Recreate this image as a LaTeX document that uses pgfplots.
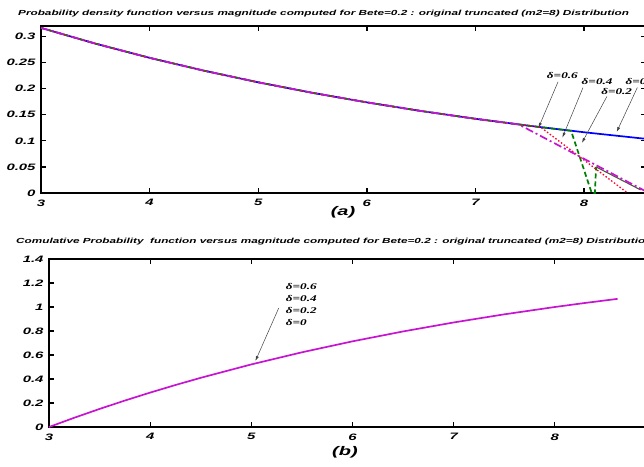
\documentclass[border=0pt]{standalone}
\usepackage{fontspec}
\setmainfont{Liberation Sans}
\newfontfamily\wf[FakeStretch=1.6]{Liberation Sans}
\newfontfamily\wsf[FakeStretch=1.5]{Liberation Serif}
\usepackage{pgfplots}
\pgfplotsset{compat=1.18}
\usetikzlibrary{arrows.meta}

\newcommand\tickfont{\wf\bfseries\itshape\fontsize{9.3}{10}\selectfont}
\newcommand\titlefont{\wf\bfseries\itshape\fontsize{7.35}{8}\selectfont}
\newcommand\dfont{\wsf\bfseries\itshape\fontsize{8.8}{9}\selectfont}
\definecolor{mgreen}{rgb}{0,0.5,0}
\definecolor{dkline}{rgb}{0.3,0.35,0.25}
\definecolor{mmag}{rgb}{0.78,0.08,0.82}

\pgfplotsset{
  mat/.style={
    scale only axis, clip=false,
    axis line style={line width=1.5pt},
    tick align=inside, major tick length=5pt,
    major tick style={line width=1.3pt, black},
    tick label style={font=\tickfont},
    xticklabel style={yshift=-3pt},
    yticklabel style={xshift=-2pt},
  },
}
\tikzset{ann/.style={-{Latex[length=5pt,width=3pt]}, black!75, line width=0.5pt}}

\begin{document}
\begin{tikzpicture}[x=1pt,y=1pt]
% ---------------- (a) pdf ----------------
\begin{axis}[mat, at={(41pt,273pt)}, anchor=south west, width=605pt, height=167pt,
  xmin=3, xmax=8.57, ymin=0, ymax=0.32,
  xtick={3,4,5,6,7,8}, xticklabels={3,4,5,6,7,8},
  ytick={0,0.05,0.1,0.15,0.2,0.25,0.3}, yticklabels={0,0.05,0.1,0.15,0.2,0.25,0.3}]
% delta = 0
\addplot[blue, line width=1.7pt] coordinates {
 (3.0,0.3164) (3.5,0.2863) (4.0,0.2590) (4.5,0.2344) (5.0,0.2121) (5.5,0.1919)
 (6.0,0.1737) (6.5,0.1571) (7.0,0.1422) (7.5,0.1287) (8.0,0.1164) (8.5,0.1053) (8.57,0.1038)};
% delta = 0.2
\addplot[mgreen, line width=1.7pt, dash pattern=on 5pt off 3pt] coordinates {
 (3.0,0.3164) (3.5,0.2863) (4.0,0.2590) (4.5,0.2344) (5.0,0.2121) (5.5,0.1919)
 (6.0,0.1737) (6.5,0.1571) (7.0,0.1422) (7.5,0.1287) (7.88,0.1192) (8.07,0) (8.10,0) (8.11,0.050)};
\addplot[dkline, line width=1.1pt] coordinates {(8.11,0.050) (8.52,0.006)};
% delta = 0.4
\addplot[red!85!magenta, line width=1.3pt, dash pattern=on 1.5pt off 2pt] coordinates {
 (3.0,0.3164) (3.5,0.2863) (4.0,0.2590) (4.5,0.2344) (5.0,0.2121) (5.5,0.1919)
 (6.0,0.1737) (6.5,0.1571) (7.0,0.1422) (7.5,0.1287) (7.6,0.1261) (8.40,0)};
% delta = 0.6
\addplot[mmag, line width=1.7pt, dash pattern=on 8pt off 3pt on 2pt off 3pt] coordinates {
 (3.0,0.3164) (3.5,0.2863) (4.0,0.2590) (4.5,0.2344) (5.0,0.2121) (5.5,0.1919)
 (6.0,0.1737) (6.5,0.1571) (7.0,0.1422) (7.4,0.1312) (8.57,0.003)};
% annotations
\draw[ann] (axis cs:7.76,0.213) -- (axis cs:7.58,0.125);
\node[font=\dfont] at (axis cs:7.80,0.225) {δ=0.6};
\draw[ann] (axis cs:7.99,0.202) -- (axis cs:7.80,0.106);
\node[font=\dfont] at (axis cs:8.12,0.213) {δ=0.4};
\draw[ann] (axis cs:8.21,0.185) -- (axis cs:7.98,0.096);
\node[font=\dfont] at (axis cs:8.30,0.194) {δ=0.2};
\draw[ann] (axis cs:8.49,0.202) -- (axis cs:8.30,0.117);
\node[font=\dfont, anchor=west, inner sep=0pt] at (axis cs:8.38,0.213) {δ=0};
\end{axis}
% ---------------- (b) cdf ----------------
\begin{axis}[mat, at={(49pt,39pt)}, anchor=south west, width=607pt, height=168pt,
  xmin=3, xmax=9, ymin=0, ymax=1.4,
  xtick={3,4,5,6,7,8}, xticklabels={3,4,5,6,7,8},
  ytick={0,0.2,0.4,0.6,0.8,1,1.2,1.4}, yticklabels={0,0.2,0.4,0.6,0.8,1,1.2,1.4}]
\addplot[mmag, line width=1.7pt] coordinates {
 (3.0,0) (3.25,0.0772) (3.5,0.1506) (3.75,0.2204) (4.0,0.2868) (4.25,0.3499) (4.5,0.4100)
 (5.0,0.5216) (5.5,0.6225) (6.0,0.7138) (6.5,0.7963) (7.0,0.8712) (7.5,0.9388)
 (8.0,1.0000) (8.3,1.0338) (8.62,1.0678)};
\node[font=\dfont, anchor=west, inner sep=0pt] at (axis cs:5.34,1.167) {δ=0.6};
\node[font=\dfont, anchor=west, inner sep=0pt] at (axis cs:5.34,1.067) {δ=0.4};
\node[font=\dfont, anchor=west, inner sep=0pt] at (axis cs:5.34,0.967) {δ=0.2};
\node[font=\dfont, anchor=west, inner sep=0pt] at (axis cs:5.34,0.867) {δ=0};
\draw[ann] (axis cs:5.27,0.99) -- (axis cs:5.04,0.55);
\end{axis}
% titles and panel labels
\node[anchor=west, inner sep=0pt, font=\titlefont] at (18,452)
  {Probability density function versus magnitude computed for Bete=0.2 : original truncated (m2=8) Distribution};
\node[anchor=west, inner sep=0pt, font=\titlefont] at (16,224)
  {Comulative Probability\ \ function versus magnitude computed for Bete=0.2 : original truncated (m2=8) Distribution};
\node[font=\wf\bfseries\itshape\fontsize{12.5}{14}\selectfont] at (343,254) {(a)};
\node[font=\wf\bfseries\itshape\fontsize{12.5}{14}\selectfont] at (345,14) {(b)};
\pgfresetboundingbox
\path[use as bounding box] (0,0) rectangle (644,466);
\end{tikzpicture}
\end{document}
